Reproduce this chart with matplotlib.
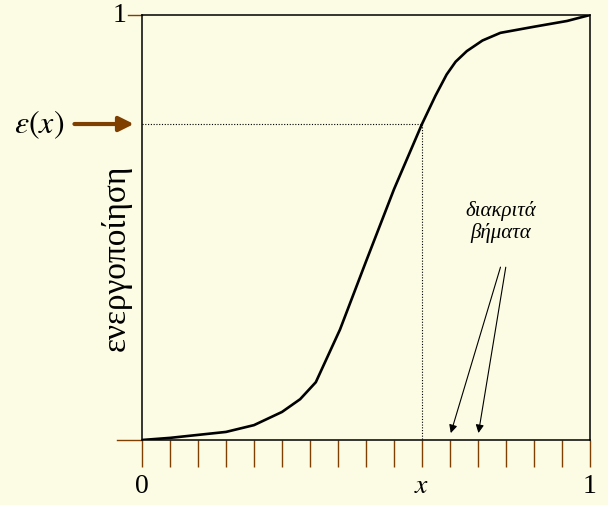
import numpy as np
import matplotlib.pyplot as plt

plt.rcParams['mathtext.fontset'] = 'stix'

# activation curve
curve_x = [0, 0.0625, 0.125, 0.1875, 0.25, 0.3125, 0.353, 0.388, 0.442, 0.5,
           0.5625, 0.625, 0.655, 0.68, 0.70, 0.725, 0.76, 0.80, 0.873, 0.949, 1.0]
curve_y = [0, 0.005, 0.012, 0.019, 0.035, 0.066, 0.096, 0.136, 0.26, 0.42,
           0.59, 0.7435, 0.81, 0.86, 0.89, 0.915, 0.94, 0.958, 0.972, 0.986, 1.0]

n_steps = 16
step_ticks = np.linspace(0, 1, n_steps + 1)
x_point = 0.625
eps_x = 0.7435
step_arrow_targets = [0.6875, 0.75]

bg = '#FCFCE4'
brown = '#7F3F00'
serif = ['Liberation Serif', 'DejaVu Serif']

fig = plt.figure(figsize=(6.08, 5.06), dpi=100, facecolor=bg)
ax = fig.add_axes([142 / 608, 1 - 441 / 506, 448 / 608, 425 / 506])
ax.set_facecolor(bg)

ax.plot(curve_x, curve_y, color='black', lw=1.9, solid_joinstyle='round')
ax.plot([0, x_point], [eps_x, eps_x], color='black', lw=0.8, ls=(0, (1, 1.5)))
ax.plot([x_point, x_point], [eps_x, 0], color='black', lw=0.8, ls=(0, (1, 1.5)))

ax.set_xlim(0, 1)
ax.set_ylim(0, 1)
for s in ax.spines.values():
    s.set_color('black')
    s.set_linewidth(1.1)

labels = [''] * len(step_ticks)
labels[0] = '0'
labels[10] = '$x$'
labels[-1] = '1'
ax.set_xticks(step_ticks)
ax.set_xticklabels(labels, fontsize=20, family=serif)
ax.tick_params(axis='x', direction='out', length=19.5, width=1.0, color=brown, pad=4)
ax.set_yticks([])

# brown extensions of the axis lines to the left
ax.plot([-0.056, 0], [0, 0], color=brown, lw=1.0, clip_on=False)
ax.plot([-0.031, 0], [1, 1], color=brown, lw=1.0, clip_on=False)
ax.text(-0.05, 1, '1', fontsize=20, family=serif, ha='center', va='center')

ax.set_ylabel('ενεργοποίηση', fontsize=24, family=serif)
ax.yaxis.set_label_coords(-0.022, 0.43)

# epsilon(x) arrow
ax.annotate('', xy=(-0.012, eps_x), xytext=(-0.157, eps_x),
            arrowprops=dict(arrowstyle='-|>', color=brown, lw=3,
                            mutation_scale=22), annotation_clip=False)
ax.text(-0.23, eps_x, r'$\varepsilon(x)$', fontsize=23, ha='center', va='center')

ax.text(0.80, 0.515, 'διακριτά\nβήματα', fontsize=15, style='italic', family=serif,
        ha='center', va='center', linespacing=1.1)
for tx, sx in zip(step_arrow_targets, [0.802, 0.813]):
    ax.annotate('', xy=(tx, 0.01), xytext=(sx, 0.413),
                arrowprops=dict(arrowstyle='-|>', color='black', lw=0.8,
                                mutation_scale=12))

fig.savefig('out.png', dpi=100, facecolor=bg)
